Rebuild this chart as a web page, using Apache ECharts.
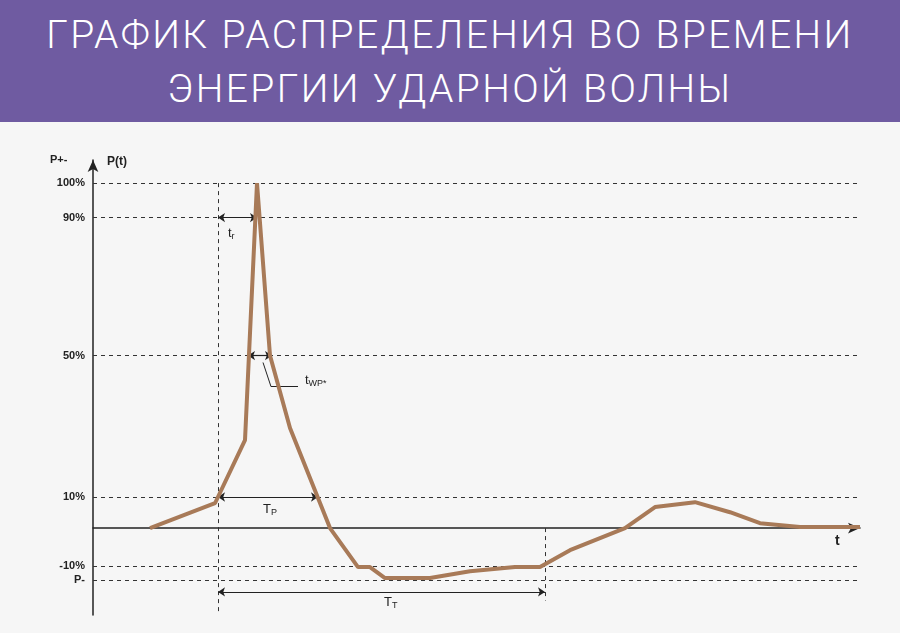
<!DOCTYPE html>
<html><head><meta charset="utf-8">
<script src="https://cdn.jsdelivr.net/npm/echarts@6/dist/echarts.min.js"></script>
<style>html,body{margin:0;padding:0;background:#f6f6f6}
#hdr{position:absolute;left:0;top:0;width:900px;height:122px;background:#6f5ba1;color:#fff;font-family:Roboto,sans-serif;font-weight:300;font-size:39px;text-align:center;line-height:54px;padding-top:8px;box-sizing:border-box;letter-spacing:2.4px}
#c{position:absolute;left:0;top:122px;width:900px;height:511px}</style></head>
<body><div id="hdr">ГРАФИК РАСПРЕДЕЛЕНИЯ ВО ВРЕМЕНИ<br>ЭНЕРГИИ УДАРНОЙ ВОЛНЫ</div><div id="c"></div>
<script>
// time (arbitrary units) and P(t) in %
const tVals = [57,122,152,164,177,197,237,265,277,292,337,377,422,447,477,532,562,602,637,667,707,767];
const pVals = [0,7.2,25.5,100,50,29,0,-11.3,-11.3,-14.5,-14.5,-12.5,-11.3,-11.3,-6.4,0,6.1,7.5,4.6,1.4,0.3,0.3];
const levelVals = [100,90,50,9,-11,-15];
const levelLabels = ['100%','90%','50%','10%','-10%','P-'];
const tStart = 125, tEnd = 452, tP = 225, twA = 155, twB = 179, tTy = -18.5;
const C='#222';
const chart = echarts.init(document.getElementById('c'));
const top0=38;
const lvLines = levelVals.map((v,i)=>[{coord:[0,v],label:{show:true,position:'start',formatter:levelLabels[i],color:C,fontSize:11,fontWeight:'bold',distance:8}},{coord:[767,v]}]);
chart.setOption({
 animation:false,
 grid:{left:93,right:40,top:top0,bottom:18},
 xAxis:{type:'value',min:0,max:767,splitLine:{show:false},axisLabel:{show:false},axisTick:{show:false},
  axisLine:{onZero:true,symbol:['none','arrow'],symbolSize:[8,12],lineStyle:{color:C,width:1.5}}},
 yAxis:{type:'value',min:-25.2,max:106.7,splitLine:{show:false},axisLabel:{show:false},axisTick:{show:false},
  axisLine:{symbol:['none','arrow'],symbolSize:[8,12],lineStyle:{color:C,width:1.5}}},
 series:[
  {type:'line',data:[],markLine:{silent:true,symbol:'none',lineStyle:{type:[4,4],color:'#333',width:1},data:lvLines.concat([
    [{coord:[tStart,100],label:{show:false}},{coord:[tStart,-25]}],
    [{coord:[tEnd,0],label:{show:false}},{coord:[tEnd,-21]}]])}},
  {type:'line',data:[],markLine:{silent:true,symbol:['arrow','arrow'],symbolSize:7,label:{show:false},lineStyle:{type:'solid',color:'#222',width:1.2},data:[
    [{coord:[tStart,90]},{coord:[164,90]}],
    [{coord:[twA,50]},{coord:[twB,50]}],
    [{coord:[tStart,9]},{coord:[tP,9]}],
    [{coord:[tStart,tTy]},{coord:[tEnd,tTy]}]]}},
  {type:'line',data:[],markLine:{silent:true,symbol:'none',label:{show:false},lineStyle:{type:'solid',color:'#222',width:1},data:[
    [{coord:[170,48]},{coord:[178,41]}],[{coord:[178,41]},{coord:[205,41]}]]}},
  {type:'line',data:tVals.map((t,i)=>[t,pVals[i]]),symbol:'none',lineStyle:{color:'#a87a58',width:4},z:5}
 ],
 graphic:[
  {type:'text',left:50,top:top0-6,style:{text:'P+-',font:'bold 11px sans-serif',fill:C}},
  {type:'text',left:107,top:top0-4,style:{text:'P(t)',font:'bold 12px sans-serif',fill:C}},
  {type:'text',left:228,top:105,style:{text:'{a|t}{b|r}',rich:{a:{fontSize:13,fill:C},b:{fontSize:9,fill:C,verticalAlign:'bottom',padding:[6,0,0,0]}}}},
  {type:'text',left:305,top:252,style:{text:'{a|t}{b|WP*}',rich:{a:{fontSize:13,fill:C},b:{fontSize:9,fill:C,padding:[6,0,0,0]}}}},
  {type:'text',left:263,top:381,style:{text:'{a|T}{b|P}',rich:{a:{fontSize:13,fill:C},b:{fontSize:9,fill:C,padding:[6,0,0,0]}}}},
  {type:'text',left:384,top:474,style:{text:'{a|T}{b|T}',rich:{a:{fontSize:13,fill:C},b:{fontSize:9,fill:C,padding:[6,0,0,0]}}}},
  {type:'text',left:835,top:412,style:{text:'t',font:'bold 14px sans-serif',fill:C}}
 ]
});
</script></body></html>
